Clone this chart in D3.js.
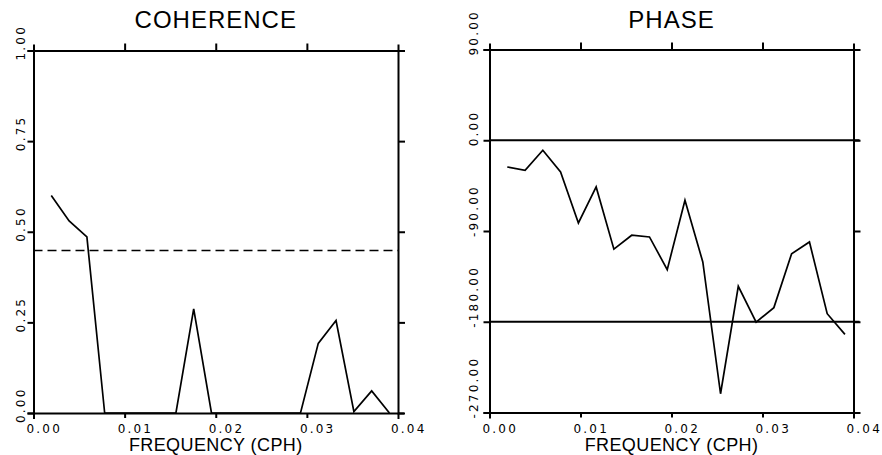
<!DOCTYPE html>
<html>
<head>
<meta charset="utf-8">
<script src="https://cdn.jsdelivr.net/npm/d3@7"></script>
<style>
  body { margin: 0; background: #fff; }
  svg { display: block; font-family: "Liberation Sans", Arial, sans-serif; }
  .axis path, .axis line { stroke: #000; stroke-width: 2; }
  .tick-label { font-family: "DejaVu Sans", sans-serif; font-size: 12px; letter-spacing: 2.2px; fill: #000; }
</style>
</head>
<body>
<div id="chart"></div>
<script>
// frequencies (cph) of the spectral estimates
var freqs = [0.00195, 0.00391, 0.00586, 0.00781, 0.00977, 0.01172, 0.01367, 0.01563, 0.01758, 0.01953,
             0.02148, 0.02344, 0.02539, 0.02734, 0.02930, 0.03125, 0.03320, 0.03516, 0.03711, 0.03906];
var coherence = [0.60, 0.53, 0.486, 0, 0, 0, 0, 0, 0.287, 0,
                 0, 0, 0, 0, 0, 0.192, 0.255, 0.004, 0.061, 0];
var phase = [-26.5, -29.8, -9.9, -31.4, -82, -46.3, -108, -94.2, -95.9, -128.3,
             -59.6, -120.7, -251.4, -144.8, -180.3, -166, -112.5, -100.9, -172, -192.5];
var signifLevel = 0.448;          // dashed line on coherence
var phaseRefLines = [0, -180];    // solid lines on phase

var xTicks = [0, 0.01, 0.02, 0.03, 0.04];
var xTickLabels = ["0.00", "0.01", "0.02", "0.03", "0.04"];
var cohTicks = [0, 0.25, 0.5, 0.75, 1];
var cohTickLabels = ["0.00", "0.25", "0.50", "0.75", "1.00"];
var phaseTicks = [90, 0, -90, -180, -270];
var phaseTickLabels = ["90.00", "0.00", "-90.00", "-180.00", "-270.00"];

var svg = d3.select("#chart").append("svg")
    .attr("width", 882)
    .attr("height", 455);

function drawPanel(opt) {
    var x = d3.scaleLinear().domain([0, 0.04]).range([opt.left, opt.right]);
    var y = d3.scaleLinear().domain(opt.yDomain).range([opt.bottom, opt.top]);
    var g = svg.append("g");

    // frame: four axes, ticks pointing outwards
    g.append("g").attr("class", "axis")
        .attr("transform", "translate(0," + opt.top + ")")
        .call(d3.axisTop(x).tickValues(xTicks.slice(1, 4)).tickFormat("").tickSizeInner(7).tickSizeOuter(6));
    g.append("g").attr("class", "axis")
        .attr("transform", "translate(0," + opt.bottom + ")")
        .call(d3.axisBottom(x).tickValues(xTicks.slice(0, 4)).tickFormat("").tickSizeInner(5).tickSizeOuter(6));
    g.append("g").attr("class", "axis")
        .attr("transform", "translate(" + opt.left + ",0)")
        .call(d3.axisLeft(y).tickValues(opt.yTicks).tickFormat("").tickSizeInner(6).tickSizeOuter(6));
    g.append("g").attr("class", "axis")
        .attr("transform", "translate(" + opt.right + ",0)")
        .call(d3.axisRight(y).tickValues(opt.yTicks).tickFormat("").tickSizeInner(7).tickSizeOuter(6));

    // x tick labels
    g.selectAll(".xl").data(xTicks).enter().append("text")
        .attr("class", "tick-label")
        .attr("x", function(d) { return x(d) - 7; })
        .attr("y", opt.bottom + 20)
        .text(function(d, i) { return xTickLabels[i]; });

    // y tick labels, rotated
    g.selectAll(".yl").data(opt.yTicks).enter().append("text")
        .attr("class", "tick-label")
        .attr("transform", function(d) {
            return "translate(" + opt.yLabelX + "," + (y(d) + opt.yLabelOff) + ") rotate(-90)";
        })
        .text(function(d, i) { return opt.yLabels[i]; });

    // titles
    g.append("text")
        .attr("x", (opt.left + opt.right) / 2)
        .attr("y", 28)
        .attr("text-anchor", "middle")
        .style("font-size", "24px")
        .style("letter-spacing", "1px")
        .text(opt.title);
    g.append("text")
        .attr("x", (opt.left + opt.right) / 2)
        .attr("y", 451)
        .attr("text-anchor", "middle")
        .style("font-size", "18px")
        .style("letter-spacing", "0.4px")
        .text("FREQUENCY (CPH)");

    return { g: g, x: x, y: y };
}

// COHERENCE
var p1 = drawPanel({
    left: 33.5, right: 398, top: 50.5, bottom: 413,
    yDomain: [0, 1], yTicks: cohTicks, yLabels: cohTickLabels,
    yLabelX: 25, yLabelOff: 10, title: "COHERENCE"
});
p1.g.append("line")
    .attr("x1", p1.x(0)).attr("x2", p1.x(0.04))
    .attr("y1", p1.y(signifLevel)).attr("y2", p1.y(signifLevel))
    .attr("stroke", "#000").attr("stroke-width", 1.5)
    .attr("stroke-dasharray", "9,5");
p1.g.append("path")
    .datum(coherence)
    .attr("fill", "none").attr("stroke", "#000").attr("stroke-width", 1.7)
    .attr("d", d3.line().x(function(d, i) { return p1.x(freqs[i]); }).y(function(d) { return p1.y(d); }));

// PHASE
var p2 = drawPanel({
    left: 489.5, right: 853.5, top: 49.5, bottom: 412.5,
    yDomain: [-270, 90], yTicks: phaseTicks, yLabels: phaseTickLabels,
    yLabelX: 478, yLabelOff: 6, title: "PHASE"
});
p2.g.selectAll(".ref").data(phaseRefLines).enter().append("line")
    .attr("x1", p2.x(0)).attr("x2", p2.x(0.04) + 6)
    .attr("y1", function(d) { return p2.y(d); }).attr("y2", function(d) { return p2.y(d); })
    .attr("stroke", "#000").attr("stroke-width", 1.8);
p2.g.append("path")
    .datum(phase)
    .attr("fill", "none").attr("stroke", "#000").attr("stroke-width", 1.7)
    .attr("d", d3.line().x(function(d, i) { return p2.x(freqs[i]); }).y(function(d) { return p2.y(d); }));
</script>
</body>
</html>
